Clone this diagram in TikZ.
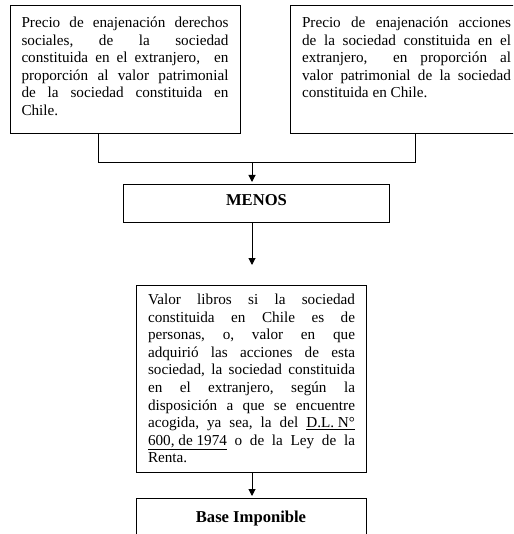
\documentclass[tikz,border=0pt]{standalone}
\usepackage{fontspec}
\setmainfont{Liberation Serif}
\usetikzlibrary{arrows.meta}
\tolerance=10000
\hbadness=10000
\frenchspacing
\tikzset{
  txtfont/.style={font=\fontsize{15.2}{17.6}\selectfont},
  box/.style={draw, line width=1pt, inner xsep=11.5pt, inner ysep=0pt, align=justify, txtfont},
  titlebox/.style={draw, line width=1pt, inner xsep=0pt, inner ysep=0pt, align=center, font=\fontsize{16.6}{19}\selectfont\bfseries},
  conn/.style={line width=1pt},
  arr/.style={conn, -{Triangle[length=7pt,width=7pt]}},
}
\begin{document}
\begin{tikzpicture}[x=1pt,y=-1pt]
\fill[white] (0,0) rectangle (513,534);
\clip (0,0) rectangle (513,534);

\node[box, anchor=north west, text width=207pt, text height=21.5pt, text depth=106pt] (der) at (9.5,5.5)
 {Precio de enajenación derechos\linebreak sociales, de la sociedad\linebreak constituida en el extranjero,\ \ en\linebreak proporción al valor patrimonial\linebreak de la sociedad constituida en\linebreak Chile.};

\node[box, anchor=north west, text width=209pt, text height=21.5pt, text depth=106pt] (acc) at (290,5.5)
 {Precio de enajenación acciones\linebreak de la sociedad constituida en el\linebreak extranjero,\ \ en proporción al\linebreak valor patrimonial de la sociedad\linebreak constituida en Chile.};

\node[titlebox, anchor=north, minimum width=266pt, text height=21.5pt, text depth=16.5pt] (menos) at (256.5,184) {MENOS};

\node[box, anchor=north west, text width=207pt, text height=19pt, text depth=168pt] (valor) at (136,285)
 {Valor libros si la sociedad\linebreak constituida en Chile es de\linebreak personas, o, valor en que\linebreak adquirió las acciones de esta\linebreak sociedad, la sociedad constituida\linebreak en el extranjero, según la\linebreak disposición a que se encuentre\linebreak acogida, ya sea, la del \underline{D.L. N°}\linebreak \underline{600, de 1974} o de la Ley de la\linebreak Renta.};

\node[titlebox, anchor=north, minimum width=230pt, text height=23.5pt, text depth=60pt] (base) at (251,498) {Base Imponible};

\coordinate (lj) at (98,163);
\coordinate (rj) at (415,163);
\coordinate (mj) at (252,163);
\coordinate (free) at (252,265);

\draw[conn] (der.south -| lj) -- (lj) -- (rj) -- (acc.south -| rj);
\draw[arr, shorten >=2pt] (mj) -- (menos.north -| mj);
\draw[arr] (menos.south -| mj) -- (free);
\draw[arr, shorten >=2pt] (valor.south -| mj) -- (base.north -| mj);
\end{tikzpicture}
\end{document}
